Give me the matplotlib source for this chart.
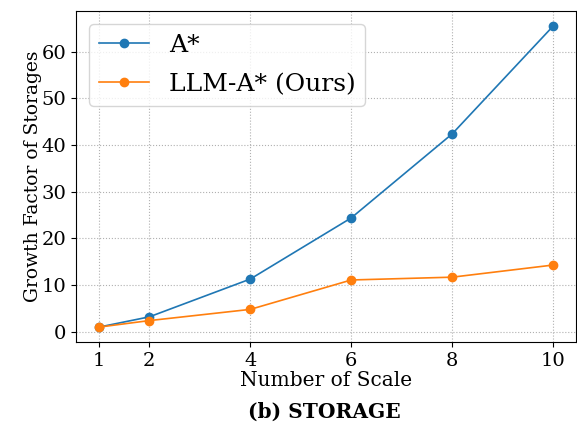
import numpy as np
import matplotlib.pyplot as plt

plt.rcParams['font.family'] = 'DejaVu Serif'

scales = [1, 2, 4, 6, 8, 10]
astar = [1.0, 3.2, 11.3, 24.4, 42.4, 65.5]
llm_astar = [1.0, 2.4, 4.8, 11.1, 11.7, 14.3]

fig = plt.figure(figsize=(5.77, 4.24), dpi=100)
ax = fig.add_axes([0.132, 0.193, 0.866, 0.781])

ax.plot(scales, astar, marker='o', color='#1f77b4', lw=1.2, ms=6, label='A*')
ax.plot(scales, llm_astar, marker='o', color='#ff7f0e', lw=1.2, ms=6, label='LLM-A* (Ours)')

ax.set_xticks(scales)
ax.tick_params(labelsize=14)
ax.set_xlabel('Number of Scale', fontsize=14.5, labelpad=1)
ax.set_ylabel('Growth Factor of Storages', fontsize=13.5, labelpad=0)
ax.grid(True, linestyle=':', color='#b0b0b0')
ax.legend(fontsize=18, loc='upper left', labelspacing=0.65)

fig.text(0.562, 0.015, '(b) STORAGE', ha='center', fontsize=14.5, fontweight='bold')

plt.savefig('out.png', dpi=100)
